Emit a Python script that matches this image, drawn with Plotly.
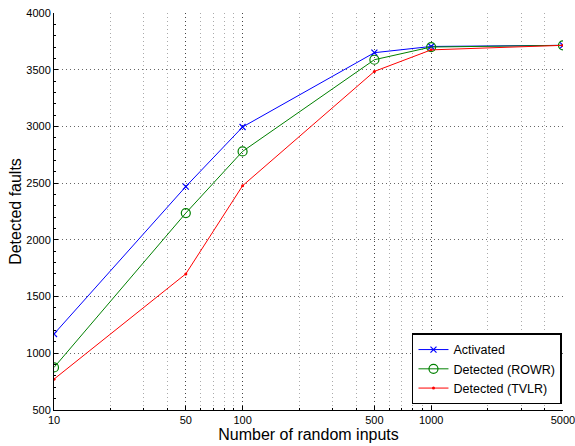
import plotly.graph_objects as go

inputs = [10, 50, 100, 500, 1000, 5000]
activated = [1170, 2470, 2995, 3650, 3705, 3715]
detected_rowr = [875, 2236, 2780, 3588, 3700, 3715]
detected_tvlr = [772, 1700, 2477, 3485, 3675, 3715]

x_ticks = [10, 50, 100, 500, 1000, 5000]
x_minor = [20, 30, 40, 60, 70, 80, 90, 200, 300, 400, 600, 700, 800, 900, 2000, 3000, 4000]
y_ticks = [500, 1000, 1500, 2000, 2500, 3000, 3500, 4000]

font = "Liberation Sans, Arial, Helvetica, sans-serif"

fig = go.Figure()
fig.add_trace(go.Scatter(x=inputs, y=activated, mode="lines+markers", name="Activated",
                         line=dict(color="#0000ff", width=1),
                         marker=dict(symbol="x-thin", size=6, line=dict(color="#0000ff", width=1.2))))
fig.add_trace(go.Scatter(x=inputs, y=detected_rowr, mode="lines+markers", name="Detected (ROWR)",
                         line=dict(color="#008000", width=1),
                         marker=dict(symbol="circle-open", size=9, color="#008000", line=dict(width=1.2))))
fig.add_trace(go.Scatter(x=inputs, y=detected_tvlr, mode="lines+markers", name="Detected (TVLR)",
                         line=dict(color="#ff0000", width=1),
                         marker=dict(symbol="circle", size=3, color="#ff0000")))

fig.update_layout(
    width=575, height=446,
    margin=dict(l=54, r=12, t=13, b=36),
    paper_bgcolor="white", plot_bgcolor="white",
    font=dict(family=font, size=11, color="black"),
    showlegend=True,
    legend=dict(x=0.998, y=0.014, xanchor="right", yanchor="bottom",
                bgcolor="white", bordercolor="black", borderwidth=1.5,
                font=dict(size=12.5, family=font), tracegroupgap=0,
                itemwidth=30),
)
fig.update_xaxes(
    type="log", range=[1, 3.6992],
    tickmode="array", tickvals=x_ticks, ticktext=[str(v) for v in x_ticks],
    showline=True, linecolor="black", linewidth=1, mirror=False,
    ticks="inside", ticklen=4, tickcolor="black",
    showgrid=True, gridcolor="#444", griddash="1px,3px", gridwidth=1,
    minor=dict(tickmode="array", tickvals=x_minor, ticks="inside", ticklen=2,
               tickcolor="black", showgrid=True, gridcolor="#aaa", griddash="1px,3px", gridwidth=1),
    title=dict(text="Number of random inputs", font=dict(size=16, family=font), standoff=2),
    zeroline=False, automargin=False, ticklabeloverflow="allow",
    tickfont=dict(size=11),
)
fig.update_yaxes(
    range=[500, 4000],
    tickmode="array", tickvals=y_ticks,
    showline=True, linecolor="black", linewidth=1, mirror=False,
    ticks="inside", ticklen=4, tickcolor="black",
    showgrid=True, gridcolor="#666", griddash="1px,3px", gridwidth=1,
    minor=dict(dtick=100, ticks="inside", ticklen=2, tickcolor="black", showgrid=False),
    title=dict(text="Detected faults", font=dict(size=16, family=font), standoff=0),
    zeroline=False, automargin=False,
    tickfont=dict(size=11),
)

fig.write_html("out.html", config={"displayModeBar": False},
               post_script="document.body.style.margin='0';document.body.style.padding='0';")
